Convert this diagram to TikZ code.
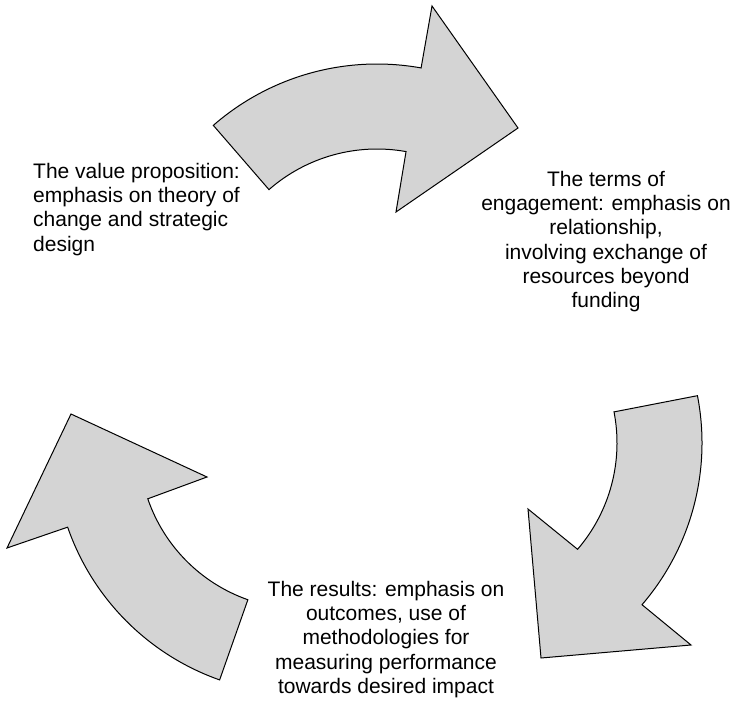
\documentclass[tikz,border=0pt]{standalone}
\usepackage{fontspec}
\setmainfont{Liberation Sans}
\usetikzlibrary{calc,positioning}
\definecolor{cyFill}{HTML}{D4D4D4}
\definecolor{cyLine}{HTML}{000000}
\tikzset{
  cyarrow/.style={draw=cyLine, fill=cyFill, line width=1pt, line join=miter},
  cytext/.style={font=\fontsize{21}{24.2}\selectfont, inner sep=0pt}
}

\begin{document}
\begin{tikzpicture}[x=1pt, y=1pt]
  \useasboundingbox (0,0) rectangle (735,702);
  \coordinate (ctop) at (377,389);
  \coordinate (cright) at (454,259);
  \coordinate (cleft) at (302,256);
  % top arrow
  \draw[cyarrow] ($(ctop)+(131.1:249)$) arc[start angle=131.1, end angle=79.8, radius=249]
    -- (432,696) -- (518,574) -- (396,490)
    -- ($(ctop)+(79.8:164)$) arc[start angle=79.8, end angle=131.2, radius=164] -- cycle;
  % right arrow
  \draw[cyarrow] ($(cright)+(11:248)$) arc[start angle=11, end angle=-40.7, radius=248]
    -- (691,57) -- (541,44) -- (528,193)
    -- ($(cright)+(-40.7:163)$) arc[start angle=-40.7, end angle=11, radius=163] -- cycle;
  % left arrow
  \draw[cyarrow] ($(cleft)+(250.6:248)$) arc[start angle=250.6, end angle=199.1, radius=248]
    -- (7,154) -- (71,288) -- (207,225)
    -- ($(cleft)+(198.9:163)$) arc[start angle=198.9, end angle=250.6, radius=163] -- cycle;
  \node[cytext, anchor=north west, align=left] (value) at (33,539)
    {The value proposition:\\emphasis on theory of\\change and strategic\\design};
  \node[cytext, anchor=north, align=center] (terms) at (606,531)
    {The terms of\\engagement: emphasis on\\relationship,\\involving exchange of\\resources beyond\\funding};
  \node[cytext, anchor=north, align=center] (results) at (386,121)
    {The results: emphasis on\\outcomes, use of\\methodologies for\\measuring performance\\towards desired impact};
\end{tikzpicture}
\end{document}
